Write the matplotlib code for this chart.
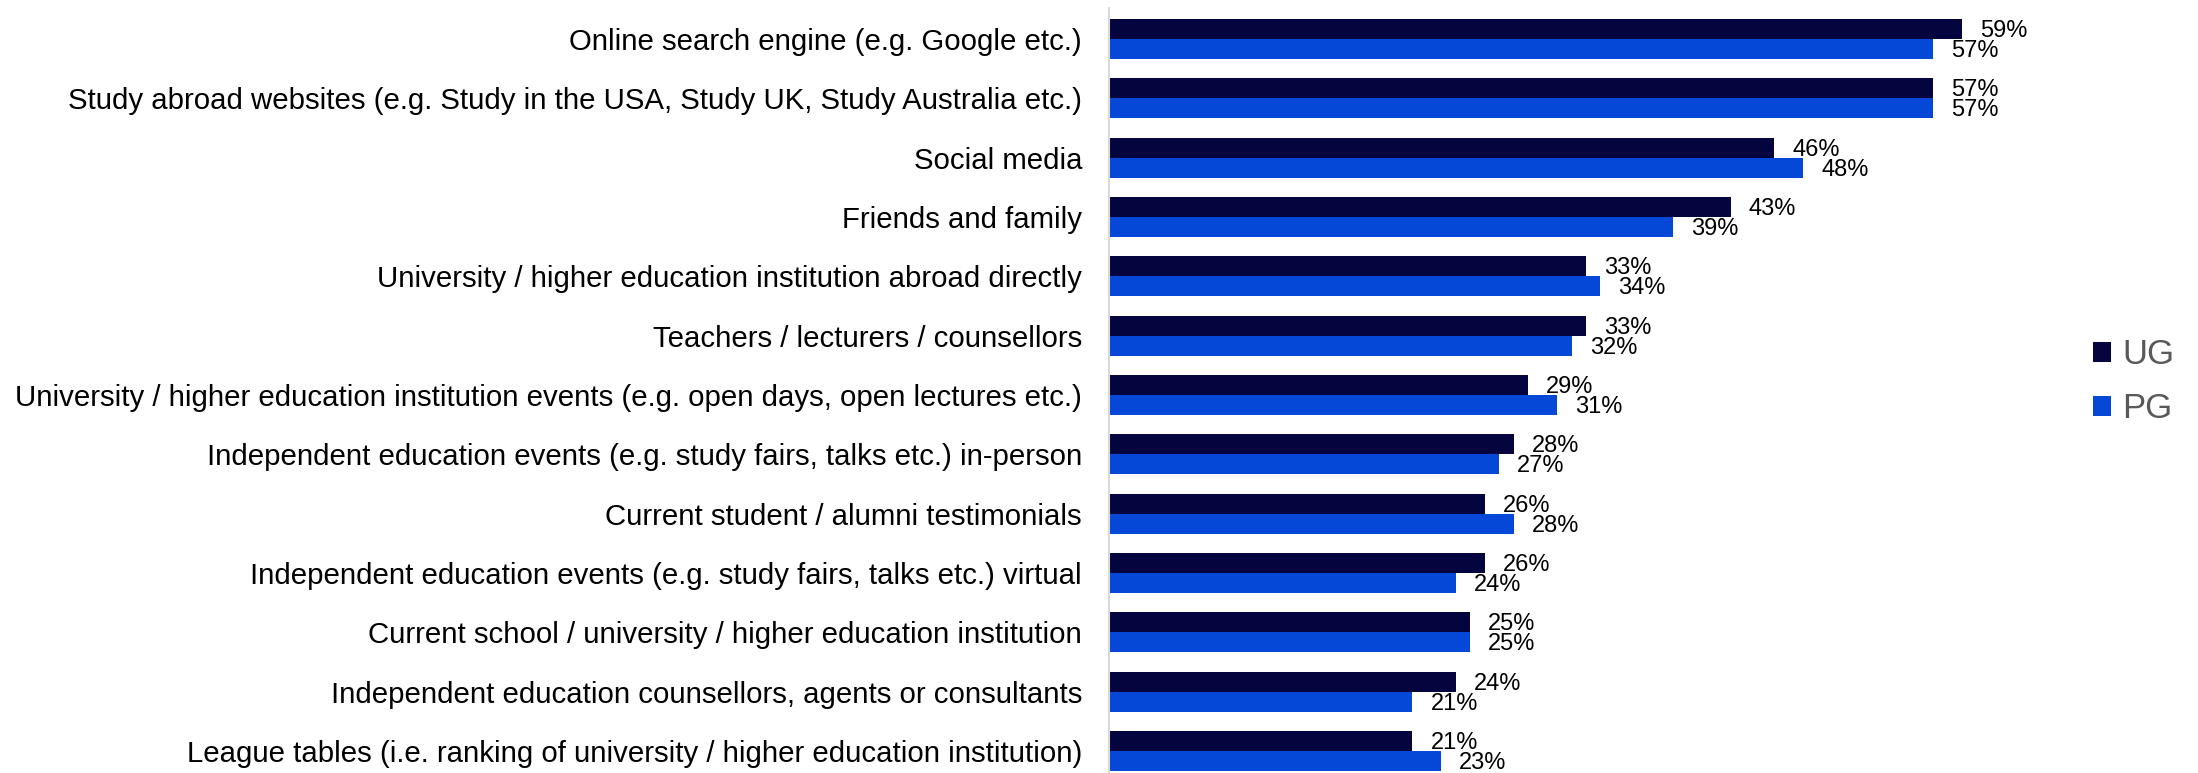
import matplotlib
matplotlib.use("Agg")
import matplotlib.pyplot as plt
import numpy as np

categories = [
    "Online search engine (e.g. Google etc.)",
    "Study abroad websites (e.g. Study in the USA, Study UK, Study Australia etc.)",
    "Social media",
    "Friends and family",
    "University / higher education institution abroad directly",
    "Teachers / lecturers / counsellors",
    "University / higher education institution events (e.g. open days, open lectures etc.)",
    "Independent education events (e.g. study fairs, talks etc.) in-person",
    "Current student / alumni testimonials",
    "Independent education events (e.g. study fairs, talks etc.) virtual",
    "Current school / university / higher education institution",
    "Independent education counsellors, agents or consultants",
    "League tables (i.e. ranking of university / higher education institution)",
]
ug = [59, 57, 46, 43, 33, 33, 29, 28, 26, 26, 25, 24, 21]
pg = [57, 57, 48, 39, 34, 32, 31, 27, 28, 24, 25, 21, 23]
series_names = ["UG", "PG"]
colors = ["#04043E", "#0547D6"]

plt.rcParams['font.family'] = ['Liberation Sans', 'DejaVu Sans']

W, H = 2198, 773
fig = plt.figure(figsize=(W / 100, H / 100), dpi=100)

left_px, right_px = 1108.5, 2198
top_px, bottom_px = 8, 773
ax = fig.add_axes([left_px / W, 1 - bottom_px / H, (right_px - left_px) / W, (bottom_px - top_px) / H])

px_per_unit = 14.47
xmax = (right_px - left_px) / px_per_unit
pitch = 59.33
ax.set_xlim(0, xmax)
ax.set_ylim(12 + (bottom_px - 751) / pitch, -(39 - top_px) / pitch)

y = np.arange(len(categories))
h = 20 / pitch
ax.barh(y - h / 2, ug, height=h, color=colors[0], label=series_names[0])
ax.barh(y + h / 2, pg, height=h, color=colors[1], label=series_names[1])

for yi, v in zip(y, ug):
    ax.annotate(f"{v}%", (v, yi - h / 2), xytext=(13, -1.5), textcoords="offset points",
                ha="left", va="center", fontsize=17, color="black")
for yi, v in zip(y, pg):
    ax.annotate(f"{v}%", (v, yi + h / 2), xytext=(13, -1.5), textcoords="offset points",
                ha="left", va="center", fontsize=17, color="black")

ax.set_yticks(y)
ax.set_yticklabels(categories, fontsize=21.15, color="black")
ax.tick_params(axis="y", length=0, pad=19)
ax.set_xticks([])
for s in ["top", "right", "bottom"]:
    ax.spines[s].set_visible(False)
ax.spines["left"].set_color("#d9d9d9")
ax.spines["left"].set_linewidth(1.5)

leg = ax.legend(loc="center left", bbox_to_anchor=(2093 / W, 1 - 381.5 / H),
                bbox_transform=fig.transFigure, frameon=False, fontsize=25,
                handlelength=0.51, handleheight=0.51, handletextpad=0.33,
                labelspacing=0.6, borderpad=0, borderaxespad=0)
for t in leg.get_texts():
    t.set_color("#595959")

fig.savefig("out.png", dpi=100)
